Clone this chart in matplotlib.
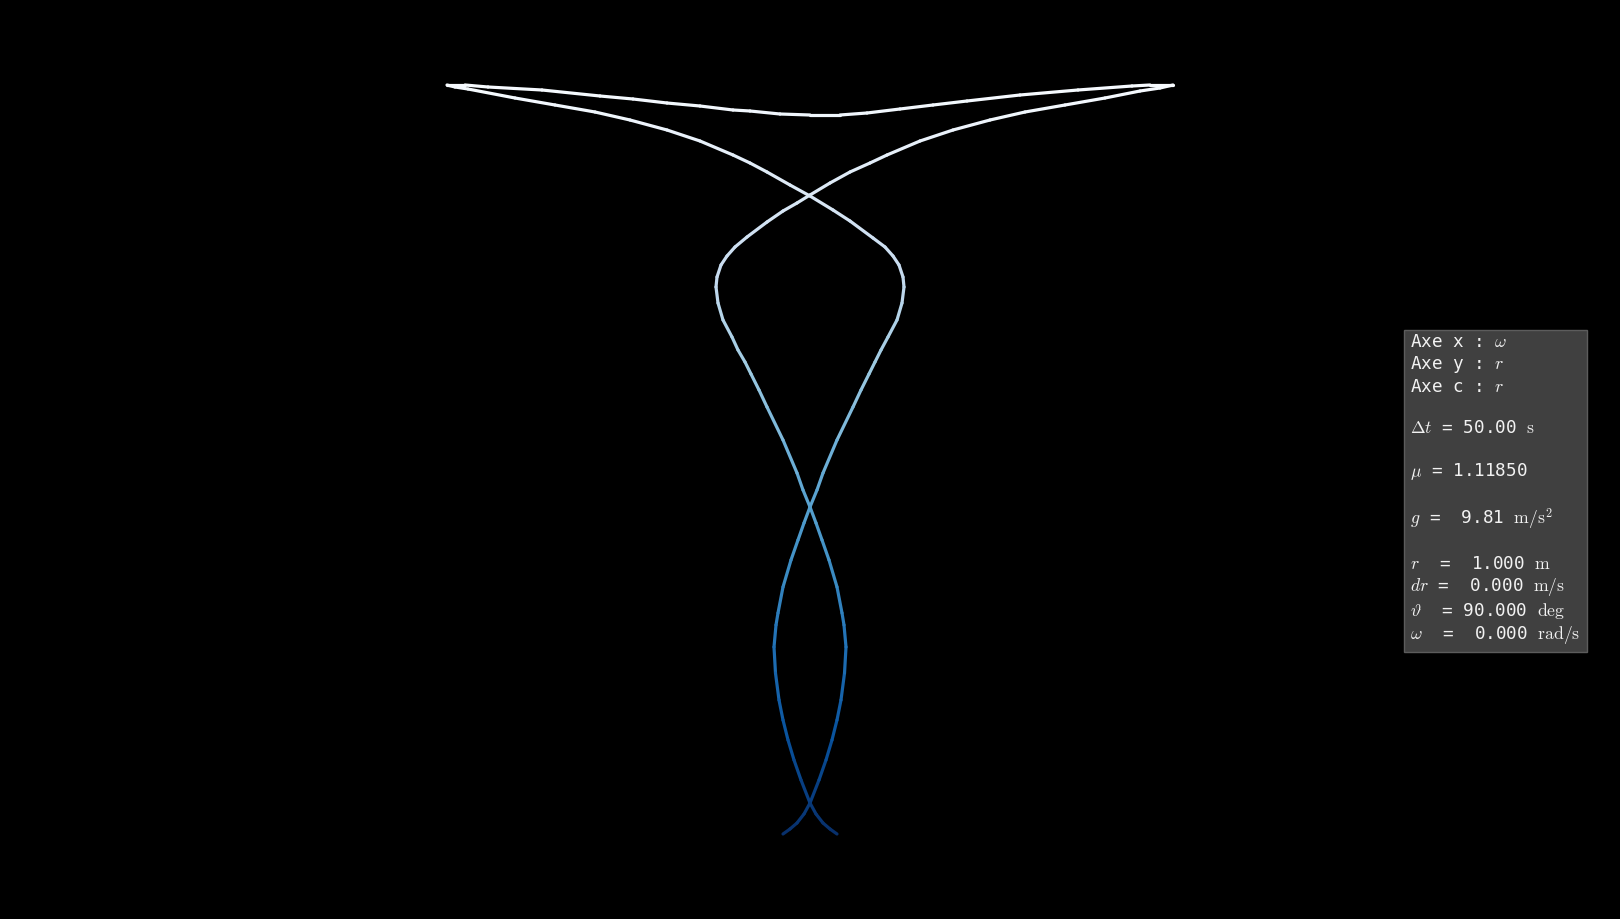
import numpy as np
import matplotlib
matplotlib.use("Agg")
import matplotlib.pyplot as plt
from matplotlib.collections import LineCollection

plt.rcParams["mathtext.fontset"] = "cm"

# phase-space trajectory: omega (rad/s) vs r (m)
omega = [
    -0.675, -0.500, -0.325, -0.150, 0.000, 0.225, 0.400, 0.550, 0.675, 0.775,
    0.863, 0.900, 0.850, 0.800, 0.675, 0.475, 0.300, 0.150,
    0.000, -0.175, -0.325, -0.675, -1.075, -1.275, -1.475, -1.625, -1.800, -1.950,
    -2.175, -2.300, -2.350, -2.325, -2.225, -2.075, -1.875, -1.575, -1.075, -0.675,
    -0.325, 0.000, 0.500, 1.000, 1.500, 1.925, 2.750, 3.575, 4.500, 5.375,
    6.375, 7.375, 8.250, 8.750, 9.075,
    8.500, 8.050, 6.700, 5.250, 3.925, 3.075, 2.250, 1.425, 0.750, 0.000,
    -0.750, -1.500, -1.925, -2.750, -3.575, -4.425, -5.250, -6.700, -8.050, -8.625,
    -9.075, -8.875, -8.550, -7.375, -6.375, -5.375, -4.500, -3.575, -2.750, -1.925,
    -1.500, -1.075, -0.500, 0.000, 0.575, 1.000, 1.575, 1.875, 2.075, 2.225,
    2.325, 2.350, 2.300, 2.175, 1.950, 1.775, 1.625, 1.475, 1.275, 1.075,
    0.675, 0.325, 0.175, 0.000, -0.150, -0.300, -0.475, -0.675, -0.800, -0.850,
    -0.900, -0.863, -0.775, -0.675, -0.550, -0.400, -0.225, 0.000, 0.150, 0.325,
    0.500, 0.675,
]
r = [
    1.000, 0.995, 0.989, 0.980, 0.969, 0.946, 0.926, 0.906, 0.886, 0.866,
    0.839, 0.813, 0.791, 0.779, 0.753, 0.726, 0.706, 0.689,
    0.673, 0.656, 0.639, 0.606, 0.573, 0.556, 0.540, 0.528, 0.516, 0.503,
    0.486, 0.469, 0.453, 0.443, 0.431, 0.422, 0.413, 0.403, 0.388, 0.377,
    0.369, 0.361, 0.349, 0.338, 0.329, 0.321, 0.307, 0.296, 0.286, 0.278,
    0.271, 0.264, 0.257, 0.254, 0.251,
    0.251, 0.252, 0.256, 0.261, 0.267, 0.271, 0.275, 0.279, 0.281, 0.281,
    0.280, 0.277, 0.276, 0.272, 0.269, 0.265, 0.262, 0.256, 0.253, 0.251,
    0.251, 0.253, 0.255, 0.264, 0.271, 0.278, 0.286, 0.296, 0.307, 0.321,
    0.329, 0.338, 0.351, 0.362, 0.376, 0.387, 0.404, 0.413, 0.422, 0.431,
    0.443, 0.453, 0.469, 0.486, 0.503, 0.516, 0.528, 0.540, 0.556, 0.573,
    0.606, 0.639, 0.656, 0.673, 0.689, 0.706, 0.726, 0.753, 0.779, 0.791,
    0.813, 0.839, 0.866, 0.886, 0.906, 0.926, 0.946, 0.969, 0.980, 0.989,
    0.995, 1.000,
]

info_lines = [
    r"Axe x : $\omega$",
    r"Axe y : $r$",
    r"Axe c : $r$",
    "",
    r"$\Delta t$ = 50.00 $\mathrm{s}$",
    "",
    r"$\mu$ = 1.11850",
    "",
    r"$g$ =  9.81 $\mathrm{m/s^2}$",
    "",
    r"$r$  =  1.000 $\mathrm{m}$",
    r"$dr$ =  0.000 $\mathrm{m/s}$",
    r"$\vartheta$  = 90.000 $\mathrm{deg}$",
    r"$\omega$  =  0.000 $\mathrm{rad/s}$",
]

fig = plt.figure(figsize=(16.2, 9.19), dpi=100, facecolor="black")
ax = fig.add_axes([0, 0, 1, 1], facecolor="black")

w = np.array(omega)
rr = np.array(r)
pts = np.column_stack([w, rr])
segs = np.stack([pts[:-1], pts[1:]], axis=1)
cval = 0.5 * (rr[:-1] + rr[1:])

lc = LineCollection(segs, cmap="Blues", linewidths=2.3, capstyle="round",
                    joinstyle="round")
lc.set_array(cval)
lc.set_clim(rr.min(), rr.max())
ax.add_collection(lc)

ax.set_xlim(-20.25, 20.25)
ax.set_ylim(1.085, 0.166)
ax.axis("off")

fig.text(0.8704, 0.6375, "\n".join(info_lines), family="DejaVu Sans Mono",
         fontsize=12.7, color="#f2f2f2", ha="left", va="top", linespacing=1.195,
         bbox=dict(boxstyle="square,pad=0.35", facecolor="#404040",
                   edgecolor="#5c5c5c", linewidth=1.0))

fig.savefig("out.png", dpi=100, facecolor="black")
